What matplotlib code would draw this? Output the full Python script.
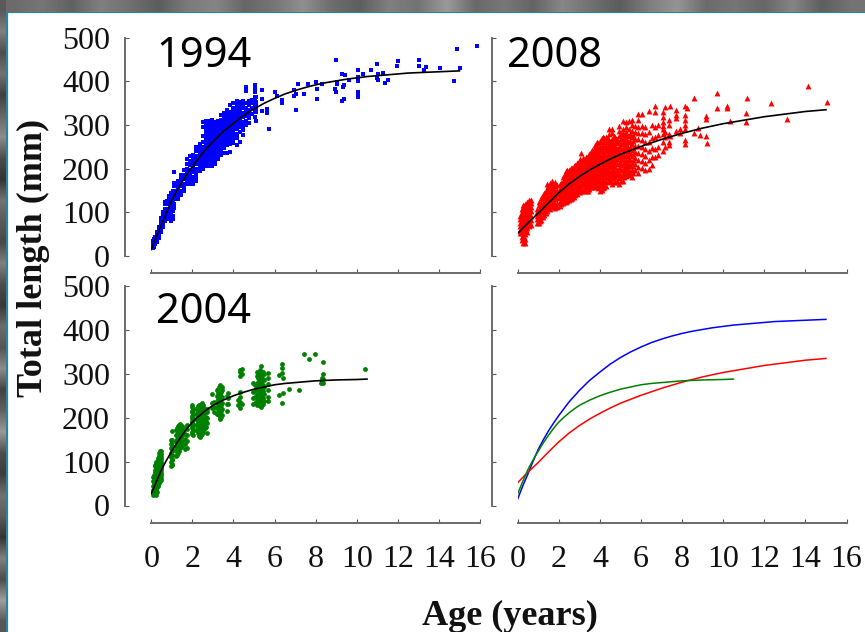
import matplotlib
matplotlib.use("Agg")
import matplotlib.pyplot as plt
from matplotlib.patches import Rectangle

W, H = 865, 632

# ---------- data: (age, [lengths at that age]) ----------
points_1994 = [
 (0.08,[18,26,34]),(0.14,[20,30,40]),(0.2,[28,36,44]),(0.28,[32,40,48,55]),(0.36,[42,50,60,66]),
 (0.45,[56,64,72,80,88]),(0.55,[66,76,84,92,100]),(0.65,[80,90,100,108,118,124]),(0.75,[88,98,108,118,126]),
 (0.85,[84,92,100,108,118,128,138]),(0.95,[80,88,96,104,114,124,134,144]),(1.05,[84,92,102,112,122,132,142,150]),
 (1.12,[110,120,130,140,150,160,168,193]),(1.3,[130,140,150,158,166,172]),(1.45,[140,150,160,170,178,186]),
 (1.6,[150,158,166,176,186,196]),(1.75,[165,172,180,190,200,210,222]),(1.9,[165,174,182,190,198,208,218,228]),
 (2.05,[165,173,182,192,202,212,222,232]),(2.2,[172,180,190,200,210,220,230,240,250]),
 (2.35,[195,203,212,222,232,240,248,256]),(2.5,[200,208,216,224,232,240,250,262,275,296,306]),
 (2.65,[205,214,222,230,238,246,254,262,270,278,286,294,302,310]),
 (2.8,[205,214,222,230,238,246,254,262,270,278,286,294,302,310]),
 (2.95,[205,215,224,232,240,248,256,264,272,280,288,296,304,312]),
 (3.1,[210,218,226,234,242,250,258,266,274,282,290,298,306]),
 (3.25,[222,230,238,246,254,262,270,278,286,294,302,310]),
 (3.4,[232,240,248,256,264,272,280,288,296,304,312,322]),
 (3.55,[235,248,256,264,272,280,288,296,304,312,320,328]),
 (3.7,[236,254,262,270,278,286,294,302,310,318,326,334]),
 (3.85,[238,256,265,274,282,290,298,306,314,322,330,345]),
 (4.0,[258,266,275,284,292,300,308,316,324,332,340,350]),
 (4.15,[255,270,280,290,298,306,314,322,330,338,346,355]),
 (4.3,[262,285,295,304,312,320,328,336,344,352]),
 (4.45,[278,288,298,308,318,328,338,348,356]),
 (4.6,[300,310,320,330,340,350,388,378]),(4.75,[305,316,325,335,345,355]),
 (5.04,[391,384,375,365,359,352,343,330,318]),(5.1,[365,352,330,310,345,338]),(4.9,[340,350,358,326]),
 (5.37,[380,359,331]),(5.63,[337,328]),(5.71,[292]),(6.03,[376]),(6.12,[367]),(6.37,[358,351]),
 (6.96,[380]),(6.93,[367]),(7.06,[372,335]),(7.12,[394]),(7.41,[370]),(7.62,[395]),(8.0,[399]),
 (8.06,[383,359]),(8.29,[395]),(8.92,[383]),(8.99,[375]),(9.0,[450]),(9.05,[399,393]),(9.28,[416]),
 (9.29,[355]),(9.31,[386]),(9.36,[391,359]),(9.45,[414]),(9.64,[403]),(10.04,[376,371,365]),
 (10.06,[427,410,400]),(10.3,[418]),(10.7,[427]),(10.97,[440]),(11.0,[407]),(11.05,[416,402]),
 (11.3,[419]),(11.37,[397]),(11.5,[403]),(11.97,[435]),(12.0,[446]),(13.04,[450,435]),(13.28,[427]),
 (13.37,[432]),(14.03,[430]),(14.74,[400]),(14.86,[475]),(15.04,[431]),(15.85,[480]),
]
points_2008 = [
 (0.12,[52,60,68,76,84,92]),(0.2,[36,44,52,60,68,76,84,92,100,108]),(0.28,[30,38,46,54,62,70,78,86,94,102,110,116]),
 (0.36,[30,40,50,60,70,80,90,100,110,120]),(0.46,[55,65,75,85,95,105,115,124]),(0.56,[68,78,88,98,108,118,128]),
 (0.66,[72,82,92,102,112,122,128]),(0.95,[76,84,92,100,108]),(1.05,[76,86,96,106,116,124]),
 (1.15,[82,92,102,112,122,132]),(1.3,[94,104,114,124,134,144]),(1.42,[104,114,124,134,144,154,164]),
 (1.55,[108,118,128,138,148,158,168]),(1.68,[114,124,134,144,154,164,172]),(1.8,[110,120,130,140,150,160,170]),
 (1.92,[112,122,132,142,152,162]),(2.05,[114,124,134,144,154,164]),(2.2,[122,132,142,152,162,172,180]),
 (2.35,[124,134,144,154,164,174,184,194]),(2.5,[128,138,148,158,168,178,188,198]),
 (2.65,[132,142,152,162,172,182,192,202]),(2.8,[140,150,160,170,180,190,200,208]),
 (2.95,[146,156,166,176,186,196,206,214]),(3.1,[148,158,168,178,188,198,208,218,235]),
 (3.25,[152,162,172,182,192,202,212,222]),(3.4,[150,160,170,180,190,200,210,220,230]),
 (3.55,[158,168,178,188,198,208,218,228,238]),(3.7,[158,168,178,188,198,208,218,228,238,244]),
 (3.85,[160,170,180,190,200,210,220,230,240,250,260]),(4.0,[150,162,172,182,192,202,212,222,232,242,252,264]),
 (4.15,[155,165,175,185,195,205,215,225,235,245,255,265,272]),
 (4.3,[160,172,182,192,202,212,222,232,242,252,262,272]),(4.45,[175,185,195,205,215,225,235,245,255,265,280,290]),
 (4.6,[165,178,188,198,208,218,228,238,248,258,268,282,290]),(4.75,[170,180,192,204,216,228,240,252,264,272]),
 (4.95,[166,178,190,202,214,226,238,250,262,274,286,298]),(5.1,[172,186,198,210,222,234,246,258,270,282,292,310]),
 (5.25,[184,196,208,220,232,244,256,270,284,296,306]),(5.4,[186,198,210,222,234,246,260,274,290,310]),
 (5.55,[182,198,214,228,242,256,272,286,300,312]),(5.7,[196,210,224,238,252,268,284,298]),
 (5.85,[190,204,220,236,252,268,282,296,312,325]),(6.05,[202,218,234,250,266,282,298,325]),
 (6.2,[196,212,228,244,262,280,296]),(6.38,[200,220,240,262,284,332]),(6.55,[208,226,248,270,300]),
 (6.7,[226,246,272,296,330,343]),(6.85,[232,250,276,300]),(7.06,[330,318,308,298,290,280,262,240]),
 (7.17,[342,285,272,250]),(7.34,[311,300,280,254,262]),(7.42,[344,275]),(7.68,[334,323,315,287]),
 (7.9,[290,282]),(8.12,[343,323,312,300,292,265]),(8.15,[256]),(8.23,[339]),(8.6,[361,281]),(8.75,[294]),
 (8.88,[277]),(9.14,[320,314,275]),(9.2,[258]),(9.69,[373,339]),(10.18,[343,339]),(10.34,[310]),
 (11.12,[327,307]),(11.15,[363]),(12.34,[351]),(13.1,[313]),(14.15,[390]),(15.03,[352]),
]
points_2008_dense = [
 (0.24,[40,48,58,66,74,82,90,98,106]),(0.32,[34,44,54,64,74,84,94,104,114]),(0.42,[60,70,80,90,100,110,120]),
 (0.52,[72,82,92,102,112,122]),(0.61,[75,85,95,105,115,125]),(1.1,[80,90,100,110,120]),(1.24,[90,100,110,120,130,140]),
 (1.36,[98,108,118,128,138,148]),(1.48,[110,120,130,140,150,160]),(1.62,[112,122,132,142,152,162]),
 (1.74,[116,126,136,146,156,166]),(2.12,[118,128,138,148,158,168]),(2.28,[126,137,147,157,167,177,187]),
 (2.42,[126,137,147,157,167,177,187,197]),(2.58,[130,141,151,161,171,181,191,201]),
 (2.72,[136,147,157,167,177,187,197,205]),(2.88,[142,153,163,173,183,193,203,212]),
 (3.02,[146,153,163,173,183,193,203,213,222]),(3.18,[150,163,173,183,193,203,213,224]),
 (3.32,[150,157,167,177,187,197,207,217,227]),(3.48,[154,165,175,185,195,205,215,225,234]),
 (3.62,[158,173,183,193,203,213,223,233,242]),(3.78,[160,175,185,195,205,215,225,235,245,255]),
 (3.92,[155,167,177,187,197,207,217,227,237,247,258]),(4.08,[152,160,170,180,190,200,210,220,230,240,250,260,270]),
 (4.22,[158,170,180,190,200,210,220,230,240,250,260,270]),(4.38,[170,180,190,200,210,220,230,240,250,260,270]),
 (4.52,[172,183,193,203,213,223,233,243,253,263]),(4.68,[170,183,193,203,213,223,233,243,253,263,275]),
 (4.85,[172,186,198,210,222,234,246,258,268]),(5.02,[172,184,196,208,220,232,244,256,268,280]),
 (5.18,[180,192,204,216,228,240,252,264,276]),(5.32,[190,204,216,228,240,252,264,278]),
 (5.48,[190,206,220,236,250,264,280]),(5.62,[190,206,220,234,248,264,278]),
]
points_2004 = [
 (0.1,[25,35,45,55,65]),(0.16,[28,40,52,64,76,92]),(0.22,[24,36,48,60,72,84,96]),(0.28,[30,42,54,66,78,90,100]),
 (0.34,[50,62,74,86,98,108]),(0.42,[56,68,80,92,104,114,124]),(0.47,[62,74,86,98,110,124]),
 (0.97,[90,100,110,120,130,140,150]),(1.03,[92,104,116,128,150,170]),(1.2,[112,124,136,148,160,172]),
 (1.3,[120,132,144,156,168,180]),(1.4,[130,142,154,166,178,186]),(1.5,[136,148,160,172,182]),
 (1.62,[128,140,152,164,176]),(1.72,[132,146,160,174,184]),(1.97,[168,180,192,204,216,228]),
 (2.05,[160,172,184,196,208,220]),(2.2,[172,184,196,208,220]),(2.3,[160,172,184,196,208,222]),
 (2.37,[155,168,180,192,204,216,228]),(2.45,[162,176,190,204,218,234]),(2.55,[175,187,199,211,223]),
 (2.65,[178,190,202,214]),(2.72,[165,188,200,212,220]),(2.95,[222,234,254]),(3.05,[212,224,236]),
 (3.2,[208,222,236,250,262]),(3.28,[206,218,232,246,258,270]),(3.36,[196,210,224,238,252,266,274]),
 (3.45,[206,220,234,248,262,270]),(3.67,[216,232,250]),(3.73,[232,244,256]),(4.2,[230,240]),
 (4.3,[236,248,258]),(4.33,[222,296,308,304]),(4.42,[232,300,310]),(4.95,[232,246,258,280]),
 (5.05,[234,248,262,274]),(5.15,[228,240,254,268,280,294,305]),(5.25,[230,244,258,272,286,300]),
 (5.33,[225,238,252,266,280,296,318]),(5.42,[232,246,260,274,288,304]),(5.48,[238,254,270,286,300]),
 (5.7,[238,248,262,276,290,302]),(6.2,[252,298]),(6.34,[233,301]),(6.37,[322,313]),(6.42,[257,291]),
 (6.68,[265]),(7.19,[262]),(7.41,[346]),(7.67,[333]),(7.95,[345]),(8.27,[280]),(8.32,[291,284]),
 (8.35,[326,278]),(8.37,[299,288]),(10.4,[310]),
]
points_2004_dense = [
 (0.13,[30,48,60,70]),(0.19,[34,46,58,70,82,90]),(0.25,[30,42,54,66,78,90,98]),(0.31,[44,56,68,80,92,104]),
 (0.38,[52,64,76,88,100,112,120]),(0.45,[58,70,82,94,106,118]),(1.0,[95,105,115,125,135,145]),
 (1.25,[116,128,140,152,164,176]),(1.35,[125,137,149,161,173,183]),(1.45,[133,145,157,169,180]),
 (2.0,[164,176,188,200,212,224]),(2.25,[166,178,190,202,214,226]),(2.33,[158,170,182,194,206,218,230]),
 (2.41,[160,174,186,198,210,222]),(2.5,[168,180,192,204,216,228]),(2.6,[176,188,200,212,220]),
 (3.24,[214,228,242,256,266]),(3.32,[200,214,228,242,256,272]),(3.4,[202,216,230,244,258,270]),
 (5.2,[234,248,262,276,290,302]),(5.3,[228,242,256,270,284,298,308]),(5.38,[230,244,258,272,286,300]),
]

curve_ages_1994 = [0, .25, .5, .75, 1, 1.25, 1.5, 1.75, 2, 2.5, 3, 3.5, 4, 4.5, 5, 5.5, 6, 6.5, 7, 7.5, 8, 8.5, 9, 9.5, 10, 10.5, 11, 11.5, 12, 12.5, 13, 14, 15]
curve_len_1994 = [15, 45, 72, 101, 128, 150, 170, 188, 205, 236, 262, 285, 304, 322, 337, 350, 361, 371, 379, 386, 392, 397, 401, 405, 408, 411, 413, 415, 417, 419, 420, 422, 424]
curve_ages_2008 = [0, .5, 1, 1.5, 2, 2.5, 3, 3.5, 4, 4.5, 5, 5.5, 6, 6.5, 7, 7.5, 8, 8.5, 9, 9.5, 10, 10.5, 11, 11.5, 12, 12.5, 13, 13.5, 14, 15]
curve_len_2008 = [52, 76, 98, 122, 145, 165, 182, 197, 210, 222, 233, 242, 251, 259, 267, 274, 281, 287, 293, 298, 303, 307, 311, 315, 319, 322, 325, 328, 331, 335]
curve_ages_2004 = [0, .25, .5, .75, 1, 1.25, 1.5, 1.75, 2, 2.25, 2.5, 2.75, 3, 3.5, 4, 4.5, 5, 5.5, 6, 6.5, 7, 7.5, 8, 8.5, 9, 10, 10.5]
curve_len_2004 = [27, 55, 82, 104, 124, 143, 160, 176, 190, 201, 211, 220, 228, 240, 250, 258, 265, 270, 275, 278, 280, 282, 284, 285, 286, 287, 288]

x_ticks = [0, 2, 4, 6, 8, 10, 12, 14, 16]
y_ticks = [0, 100, 200, 300, 400, 500]

# strip of the photographic slide background
top_greys = [.42,.46,.38,.5,.44,.36,.48,.52,.4,.46,.56,.43,.37,.5,.45,.6,.41,.47,.39,.53,.44,.36,.49,.58,.42,.46,.4,.52,.37,.45]
left_greys = [.35,.5,.3,.45,.25,.4,.55,.3,.2,.45,.35,.28,.5,.3,.22,.42,.33,.55,.26,.38,.6,.3,.24,.44,.36,.2,.5,.3,.62,.34]

plt.rcParams["font.family"] = ["Liberation Serif", "DejaVu Serif"]
fig = plt.figure(figsize=(W / 100, H / 100), dpi=100, facecolor="white")


def px_axes(x0, x1, ytop, ybot, **kw):
    return fig.add_axes([x0 / W, 1 - ybot / H, (x1 - x0) / W, (ybot - ytop) / H], **kw)


# background
strip = px_axes(0, W, 0, 12)
strip.imshow([top_greys], cmap="gray", vmin=0, vmax=1, aspect="auto", interpolation="bilinear")
strip.axis("off")
strip = px_axes(0, 6, 0, H)
strip.imshow([[g] for g in left_greys], cmap="gray", vmin=0, vmax=1, aspect="auto", interpolation="bilinear")
strip.axis("off")
fig.add_artist(Rectangle((6.5 / W, -0.01), 1.1, 1 - 12 / H + 0.01, transform=fig.transFigure,
                         facecolor="white", edgecolor="#2f8299", linewidth=1.6, zorder=-1))


def panel(x0, x1, ytop, ybot, show_x, show_y):
    ax = px_axes(x0, x1, ytop, ybot)
    ax.patch.set_visible(False)
    ax.set_xlim(0, 16)
    ax.set_ylim(0, 500)
    ax.set_xticks(x_ticks)
    ax.set_yticks(y_ticks)
    for s in ("top", "right"):
        ax.spines[s].set_visible(False)
    ax.spines["left"].set_position(("outward", 26 * 0.72))
    ax.spines["bottom"].set_position(("outward", 17 * 0.72))
    for s in ("left", "bottom"):
        ax.spines[s].set_color("#6a6a6a")
        ax.spines[s].set_linewidth(1.4)
    ax.tick_params(axis="both", direction="in", length=3, width=0.8, color="#555555", labelsize=23,
                   labelcolor="#111111")
    ax.tick_params(axis="x", pad=16, labelbottom=show_x)
    ax.tick_params(axis="y", pad=11, labelleft=show_y)
    return ax


def scatter(ax, cols, **kw):
    xs = [a for a, ys in cols for _ in ys]
    ys = [y for _, vals in cols for y in vals]
    ax.scatter(xs, ys, linewidths=0, clip_on=False, **kw)


XA, XB = (151.3, 480.0), (517.7, 846.5)
YA, YB = (37.7, 256.0), (286.0, 505.5)

ax1 = panel(*XA, *YA, False, True)
ax2 = panel(*XB, *YA, False, False)
ax3 = panel(*XA, *YB, True, True)
ax4 = panel(*XB, *YB, True, False)

scatter(ax1, points_1994, marker="s", s=6, color="#0000ff")
ax1.plot(curve_ages_1994, curve_len_1994, color="black", lw=1.2)
scatter(ax2, points_2008 + points_2008_dense, marker="^", s=18, color="#ff0000")
ax2.plot(curve_ages_2008, curve_len_2008, color="black", lw=1.2)
scatter(ax3, points_2004 + points_2004_dense, marker="o", s=12, color="#008000")
ax3.plot(curve_ages_2004, curve_len_2004, color="black", lw=1.2)
ax4.plot(curve_ages_1994, curve_len_1994, color="#0000ff", lw=1.1)
ax4.plot(curve_ages_2008, curve_len_2008, color="#ff0000", lw=1.1)
ax4.plot(curve_ages_2004, curve_len_2004, color="#008000", lw=1.1)

for label, px, py in (("1994", 156, 67), ("2008", 507, 67), ("2004", 156, 323)):
    fig.text(px / W, 1 - py / H, label, family="Noto Sans", fontsize=30, color="black", va="baseline", ha="left")

fig.text(33 / W, 1 - 258 / H, "Total length (mm)", rotation=90, fontsize=26, fontweight="bold",
         ha="center", va="center", color="#111111")
fig.text(510 / W, 1 - 616 / H, "Age (years)", fontsize=26, fontweight="bold",
         ha="center", va="center", color="#111111")

fig.savefig("out.png", dpi=100, facecolor="white")
